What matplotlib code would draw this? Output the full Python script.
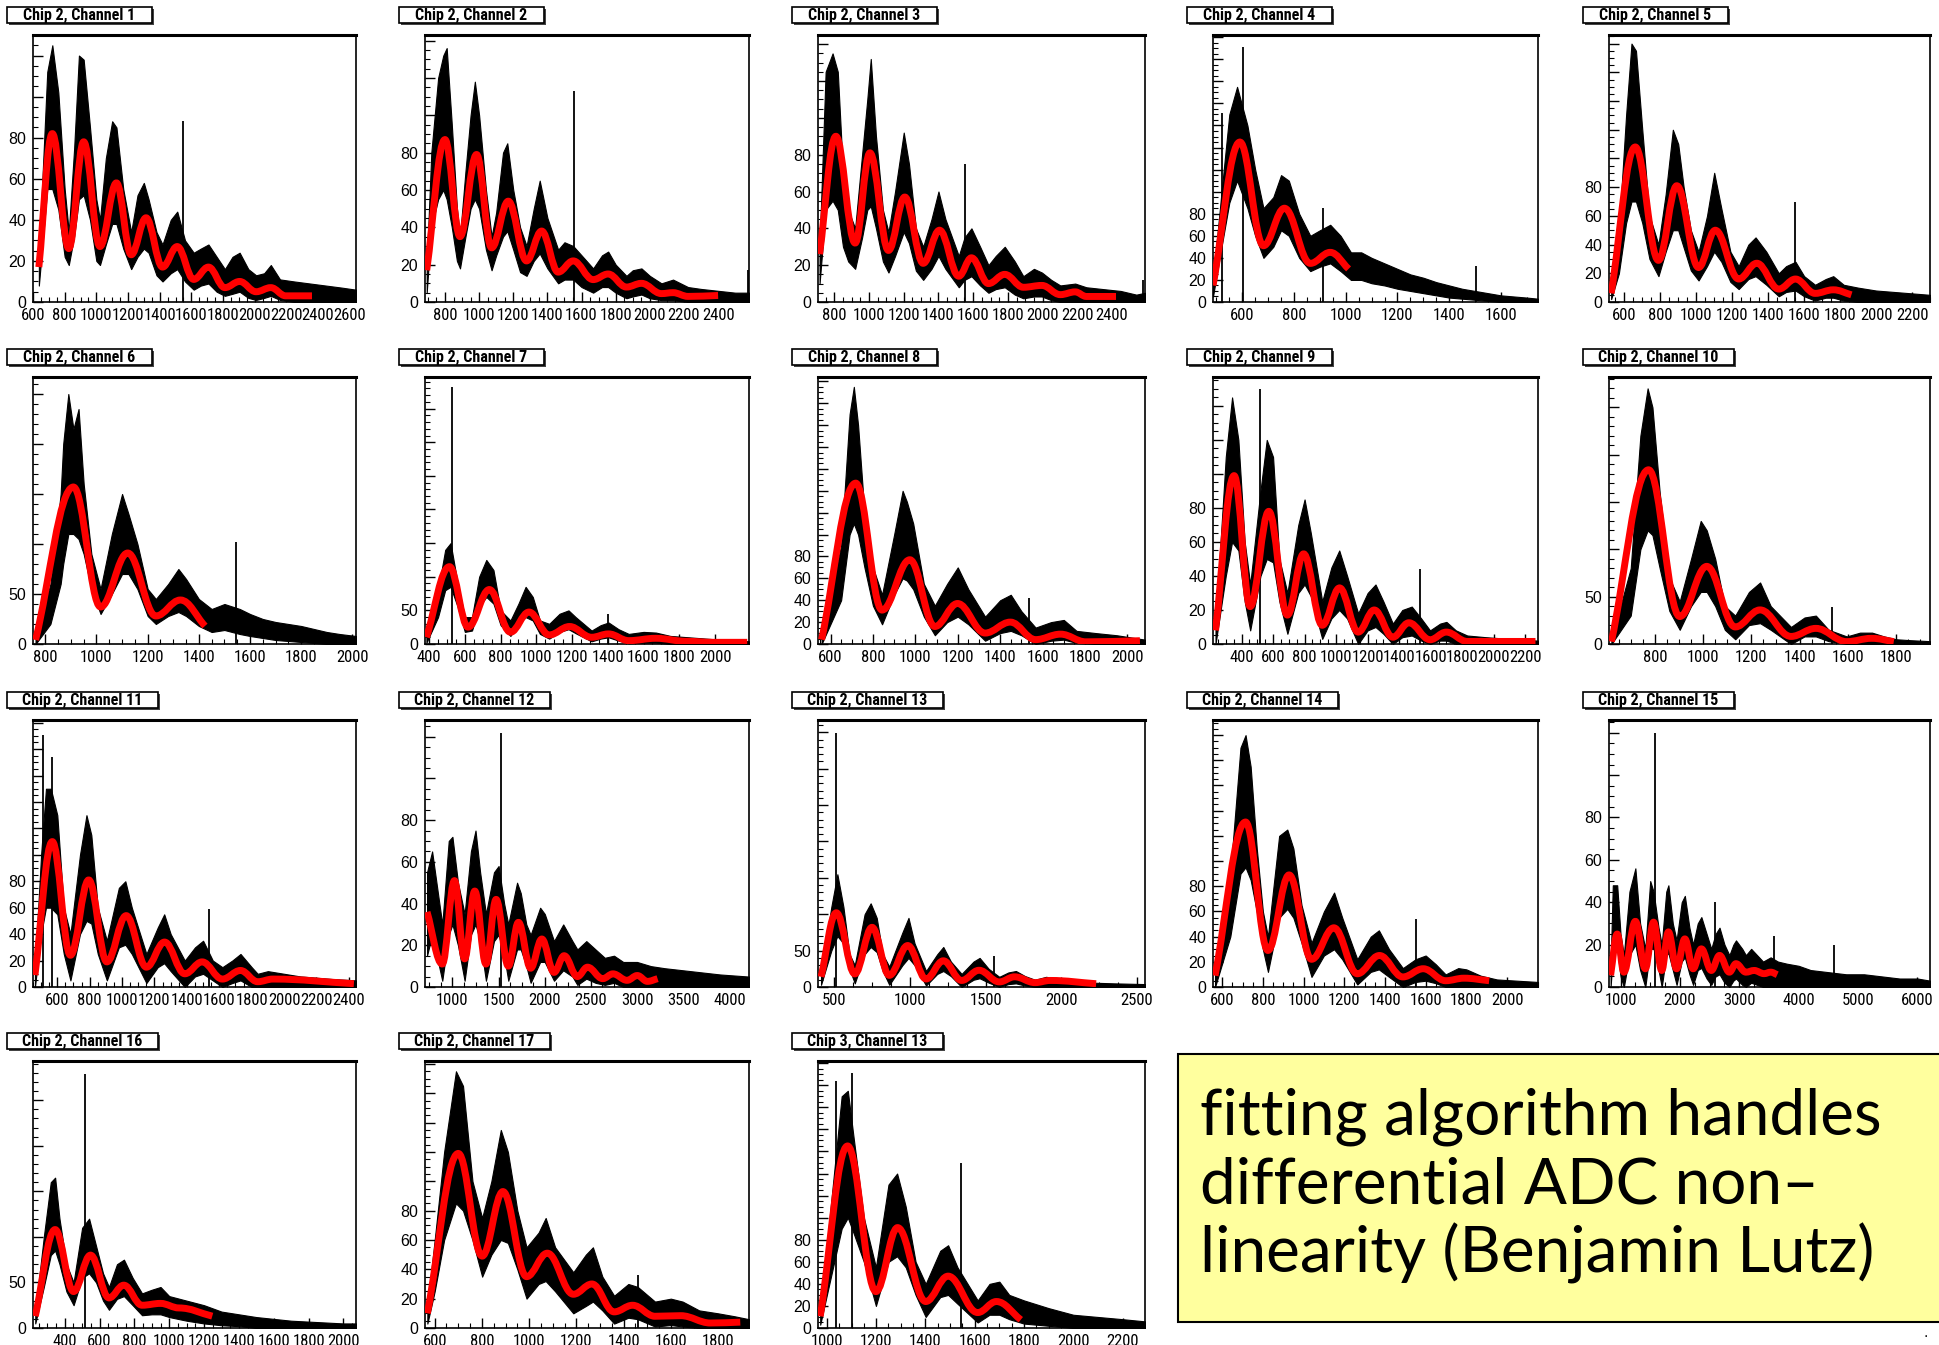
import matplotlib
matplotlib.use("Agg")
import matplotlib.pyplot as plt
from matplotlib import font_manager as fm
from matplotlib.path import Path
from matplotlib.patches import PathPatch, Rectangle
from matplotlib.ticker import MultipleLocator, AutoMinorLocator, FuncFormatter

W, H = 1939, 1345

titles = ["Chip 2, Channel 1", "Chip 2, Channel 2", "Chip 2, Channel 3",
          "Chip 2, Channel 4", "Chip 2, Channel 5", "Chip 2, Channel 6",
          "Chip 2, Channel 7", "Chip 2, Channel 8", "Chip 2, Channel 9",
          "Chip 2, Channel 10", "Chip 2, Channel 11", "Chip 2, Channel 12",
          "Chip 2, Channel 13", "Chip 2, Channel 14", "Chip 2, Channel 15",
          "Chip 2, Channel 16", "Chip 2, Channel 17", "Chip 3, Channel 13"]

# axis ranges
x_lims = [(600, 2640), (683, 2581), (706, 2590), (487, 1743), (515, 2300),
          (752, 2014), (377, 2190), (541, 2083), (219, 2281), (610, 1940),
          (450, 2444), (703, 4212), (392, 2553), (555, 2152), (806, 6211),
          (218, 2072), (559, 1931), (964, 2291)]
y_tops = [130, 143, 145, 242, 186, 267, 397, 244, 157, 282,
          202, 128, 367, 212, 126, 293, 182, 242]
x_steps = [200, 200, 200, 200, 200, 200, 200, 200, 200, 200,
           200, 500, 500, 200, 1000, 200, 200, 200]
y_steps = [20, 20, 20, 20, 20, 50, 50, 20, 20, 50,
           20, 20, 50, 20, 20, 50, 20, 20]
y_label_max = [80, 80, 80, 80, 80, 50, 50, 80, 80, 50,
               80, 80, 50, 80, 80, 50, 80, 80]

# ---- panel data: fit extrema, histogram envelope, single-bin spikes ----
p1_fx = [637, 722, 826, 920, 1023, 1127, 1220, 1314, 1418, 1511, 1615, 1708, 1812, 1905, 2009, 2102, 2196, 2362]
p1_fy = [17, 82, 26, 78, 27, 58, 23, 41, 17, 27, 11, 17, 7, 10, 5, 7, 3, 3]
p1_hx = [637, 690, 722, 760, 800, 826, 860, 890, 920, 960, 1000, 1023, 1060, 1100, 1127, 1170, 1220, 1260, 1300, 1330, 1380,
         1418, 1470, 1511, 1560, 1615, 1660, 1708, 1760, 1812, 1860, 1905, 1960, 2009, 2060, 2102, 2160, 2250, 2350, 2450, 2550, 2640]
p1_hi = [22, 112, 125, 102, 55, 34, 75, 120, 118, 85, 50, 40, 70, 88, 85, 55, 34, 52, 58, 50, 34,
         28, 40, 44, 30, 24, 26, 28, 22, 16, 22, 24, 16, 13, 14, 18, 11, 10, 9, 8, 7, 6]
p1_lo = [8, 55, 55, 45, 22, 18, 32, 50, 52, 40, 20, 18, 28, 38, 38, 26, 16, 22, 26, 24, 13,
         10, 14, 16, 10, 6, 8, 9, 5, 3, 4, 5, 2, 1, 2, 3, 1, 0, 0, 0, 0, 0]
p1_sx, p1_sy = [1550], [88]

p2_fx = [693, 800, 888, 985, 1073, 1171, 1278, 1366, 1463, 1551, 1668, 1756, 1863, 1951, 2068, 2136, 2224, 2400]
p2_fy = [17, 87, 35, 79, 29, 54, 22, 38, 16, 22, 12, 15, 8, 10, 4.5, 5, 3, 3.5]
p2_hx = [693, 720, 760, 790, 810, 840, 870, 888, 920, 950, 975, 1000, 1040, 1073, 1100, 1140, 1165, 1200, 1240, 1278, 1320,
         1355, 1400, 1463, 1500, 1551, 1600, 1668, 1720, 1756, 1800, 1863, 1900, 1951, 2000, 2068, 2136, 2224, 2300, 2400, 2500, 2581]
p2_hi = [20, 80, 120, 132, 136, 95, 50, 35, 70, 100, 118, 100, 60, 35, 48, 80, 85, 60, 40, 30, 50,
         65, 45, 28, 32, 30, 25, 18, 25, 27, 20, 14, 17, 18, 14, 10, 12, 8, 7, 6, 5, 5]
p2_lo = [5, 40, 55, 60, 55, 40, 22, 18, 35, 50, 55, 50, 28, 17, 25, 35, 38, 28, 16, 14, 22,
         26, 18, 10, 12, 12, 8, 5, 8, 8, 5, 2, 3, 4, 2, 1, 1, 0, 0, 0, 0, 0]
p2_sx, p2_sy = [1555, 2575], [113, 17]

p3_fx = [715, 809, 920, 1005, 1112, 1206, 1312, 1406, 1517, 1590, 1688, 1782, 1889, 1996, 2102, 2188, 2252, 2423]
p3_fy = [26, 90, 32, 81, 28, 57, 21, 39, 14, 24, 10, 15, 8, 9, 4, 5.5, 3, 3]
p3_hx = [715, 750, 790, 820, 850, 880, 920, 960, 990, 1010, 1040, 1080, 1112, 1150, 1200, 1230, 1270, 1312, 1360, 1400,
         1440, 1517, 1550, 1590, 1640, 1688, 1730, 1782, 1840, 1889, 1950, 1996, 2050, 2102, 2188, 2252, 2350, 2450, 2540, 2590]
p3_hi = [30, 125, 135, 125, 70, 50, 40, 80, 110, 132, 90, 50, 38, 60, 92, 75, 40, 30, 45, 60,
         45, 25, 35, 40, 30, 20, 25, 30, 22, 14, 18, 16, 12, 9, 10, 8, 7, 6, 4, 5]
p3_lo = [10, 50, 55, 50, 30, 22, 18, 35, 50, 52, 40, 22, 16, 25, 38, 32, 17, 12, 18, 25,
         18, 8, 12, 14, 9, 5, 7, 8, 4, 2, 3, 3, 1, 0, 0, 0, 0, 0, 0, 0]
p3_sx, p3_sy = [1551, 2578], [75, 12]

p4_fx = [487, 591, 682, 763, 863, 940, 1011]
p4_fy = [15, 145, 51, 85, 35, 45, 30]
p4_hx = [487, 520, 550, 580, 620, 650, 682, 720, 750, 780, 820, 863, 900, 940, 980, 1020,
         1060, 1100, 1150, 1200, 1250, 1300, 1350, 1400, 1450, 1500, 1550, 1600, 1650, 1700, 1743]
p4_hi = [20, 100, 170, 195, 160, 120, 85, 95, 115, 110, 80, 60, 65, 70, 60, 45,
         45, 40, 35, 30, 25, 22, 18, 15, 12, 10, 8, 6, 5, 4, 3]
p4_lo = [5, 50, 90, 110, 85, 60, 40, 50, 65, 60, 40, 28, 32, 35, 28, 20,
         20, 17, 15, 12, 10, 8, 6, 4, 3, 2, 1, 0, 0, 0, 0]
p4_sx, p4_sy = [520, 604, 912, 1503], [171, 231, 85, 33]

p5_fx = [527, 661, 790, 892, 1013, 1106, 1236, 1337, 1459, 1552, 1661, 1762, 1863]
p5_fy = [6, 108, 29, 81, 24, 50, 16, 27, 9, 16, 6, 8.5, 5]
p5_hx = [527, 570, 610, 640, 665, 700, 740, 790, 830, 870, 900, 930, 970, 1013, 1060, 1100, 1140, 1190,
         1236, 1290, 1330, 1390, 1459, 1500, 1552, 1600, 1661, 1720, 1762, 1820, 1900, 2000, 2100, 2200, 2300]
p5_hi = [10, 50, 130, 180, 175, 120, 60, 40, 75, 120, 110, 80, 50, 35, 60, 90, 65, 35,
         25, 40, 45, 35, 20, 25, 28, 18, 12, 16, 18, 12, 10, 8, 7, 6, 5]
p5_lo = [2, 20, 55, 70, 70, 55, 30, 18, 35, 50, 50, 38, 22, 15, 25, 35, 28, 14,
         9, 16, 18, 12, 4, 7, 8, 4, 1, 3, 3, 1, 0, 0, 0, 0, 0]
p5_sx, p5_sy = [1552], [70]

p6_fx = [762, 910, 1016, 1122, 1232, 1328, 1424]
p6_fy = [4, 157, 37, 91, 28, 44, 18]
p6_hx = [762, 820, 860, 870, 890, 910, 930, 950, 980, 1016, 1060, 1100, 1125, 1160, 1200, 1232,
         1280, 1320, 1350, 1400, 1450, 1500, 1560, 1600, 1650, 1700, 1750, 1800, 1850, 1900, 1950, 2014]
p6_hi = [8, 60, 150, 200, 250, 215, 235, 160, 90, 55, 110, 150, 130, 100, 55, 45,
         60, 75, 65, 45, 35, 40, 35, 30, 25, 22, 20, 18, 15, 12, 10, 8]
p6_lo = [0, 20, 60, 80, 110, 110, 105, 90, 55, 30, 50, 70, 70, 55, 28, 20,
         28, 32, 28, 18, 12, 14, 10, 8, 6, 4, 3, 2, 1, 0, 0, 0]
p6_sx, p6_sy = [1544], [102]

p7_fx = [385, 514, 618, 737, 855, 959, 1072, 1186, 1309, 1404, 1517, 1669, 1839, 1991, 2180]
p7_fy = [10, 115, 25, 81, 17.5, 47.5, 13.5, 26, 10, 15, 5, 8.5, 4, 2.5, 2.5]
p7_hx = [385, 450, 490, 520, 560, 600, 640, 680, 720, 760, 800, 855, 900, 940, 980, 1020, 1072,
         1130, 1180, 1220, 1309, 1360, 1404, 1460, 1517, 1600, 1669, 1750, 1850, 1950, 2050, 2150, 2190]
p7_hi = [15, 80, 140, 150, 90, 40, 40, 100, 125, 110, 50, 35, 60, 85, 70, 35, 30,
         45, 50, 40, 20, 28, 32, 22, 15, 18, 17, 12, 10, 8, 6, 5, 4]
p7_lo = [2, 40, 80, 85, 55, 18, 20, 55, 70, 60, 28, 12, 30, 40, 35, 15, 8,
         18, 22, 16, 4, 8, 10, 5, 1, 2, 2, 0, 0, 0, 0, 0, 0]
p7_sx, p7_sy = [527, 1400], [382, 45]

p8_fx = [558, 719, 843, 974, 1092, 1199, 1329, 1448, 1567, 1685, 1804, 2059]
p8_fy = [4, 147, 31, 77, 16, 37, 10, 20, 4, 9, 2, 3]
p8_hx = [558, 650, 690, 710, 730, 760, 800, 843, 900, 940, 960, 990, 1040, 1092,
         1150, 1200, 1250, 1329, 1400, 1450, 1500, 1567, 1640, 1700, 1760, 1850, 1950, 2083]
p8_hi = [8, 90, 210, 235, 200, 120, 70, 45, 100, 140, 130, 110, 55, 35,
         55, 70, 50, 25, 40, 45, 30, 15, 20, 22, 12, 10, 8, 4]
p8_lo = [0, 40, 100, 110, 100, 70, 35, 18, 45, 60, 58, 50, 25, 8,
         20, 25, 18, 3, 10, 12, 8, 0, 3, 4, 1, 0, 0, 0]
p8_sx, p8_sy = [1537], [42]

p9_fx = [235, 353, 455, 573, 691, 794, 912, 1022, 1140, 1242, 1360, 1462, 1596, 1699, 1832, 2265]
p9_fy = [8, 99, 22, 78, 17, 53, 11, 33, 7, 20, 4, 12.5, 2.5, 7, 1.5, 1.5]
p9_hx = [235, 300, 340, 380, 420, 455, 520, 560, 600, 640, 691, 760, 800, 840, 912, 970, 1020,
         1070, 1140, 1200, 1250, 1300, 1360, 1420, 1480, 1540, 1596, 1660, 1700, 1760, 1832, 1950, 2100, 2281]
p9_hi = [12, 110, 145, 120, 60, 35, 90, 120, 110, 50, 30, 70, 85, 65, 25, 45, 55,
         40, 18, 30, 35, 25, 12, 20, 22, 15, 8, 12, 13, 8, 5, 4, 3, 2]
p9_lo = [0, 40, 60, 55, 25, 8, 40, 50, 48, 25, 6, 30, 35, 28, 3, 15, 20,
         15, 0, 8, 10, 6, 0, 4, 5, 2, 0, 2, 2, 0, 0, 0, 0, 0]
p9_sx, p9_sy = [518, 1533], [150, 44]

p10_fx = [620, 774, 903, 1015, 1133, 1236, 1364, 1467, 1595, 1698, 1790]
p10_fy = [2.5, 184, 29, 82, 18, 36, 8, 16.5, 2.5, 6, 2.5]
p10_hx = [620, 700, 740, 770, 790, 820, 860, 903, 950, 990, 1015, 1050, 1090, 1133,
          1190, 1236, 1280, 1364, 1420, 1467, 1520, 1595, 1650, 1700, 1750, 1800, 1860, 1940]
p10_hi = [5, 80, 220, 270, 250, 160, 70, 45, 90, 130, 120, 90, 40, 30,
          55, 65, 40, 18, 28, 30, 15, 8, 12, 12, 8, 5, 4, 3]
p10_lo = [0, 30, 100, 120, 115, 80, 35, 15, 40, 55, 55, 40, 15, 5,
          20, 22, 15, 0, 8, 8, 3, 0, 0, 0, 0, 0, 0, 0]
p10_sx, p10_sy = [1534], [39]

p11_fx = [462, 569, 681, 794, 906, 1025, 1150, 1262, 1387, 1494, 1619, 1731, 1837, 1931, 2431]
p11_fy = [9, 110, 24, 81, 19, 54, 15, 34, 10, 19, 6, 12.5, 4, 6, 2.5]
p11_hx = [462, 500, 530, 560, 600, 640, 681, 740, 780, 810, 850, 906, 980, 1020, 1060, 1150, 1220,
          1260, 1300, 1387, 1450, 1500, 1560, 1619, 1680, 1731, 1800, 1837, 1900, 2000, 2100, 2200, 2300, 2444]
p11_hi = [15, 100, 150, 150, 130, 60, 40, 100, 130, 115, 60, 35, 75, 80, 60, 25, 45,
          55, 40, 20, 30, 35, 20, 15, 20, 25, 15, 10, 12, 10, 8, 7, 6, 5]
p11_lo = [0, 40, 60, 60, 55, 25, 5, 40, 50, 48, 25, 5, 30, 32, 25, 3, 15,
          18, 12, 0, 8, 10, 5, 0, 3, 5, 0, 0, 0, 0, 0, 0, 0, 0]
p11_sx, p11_sy = [512, 569, 1537], [191, 174, 59]

p12_fx = [725, 890, 1022, 1132, 1242, 1363, 1473, 1605, 1715, 1847, 1968, 2100, 2210, 2353, 2463,
          2628, 2738, 2892, 3002, 3112, 3222]
p12_fy = [36, 11, 51, 13.5, 46, 11, 42, 10, 31, 9, 23, 7, 15, 5, 9.5, 4, 6.3, 3.2, 5.5, 2.7, 4]
p12_hx = [725, 780, 890, 960, 1000, 1060, 1132, 1200, 1250, 1300, 1363, 1450, 1500, 1560, 1605, 1700, 1740, 1800, 1847,
          1950, 2000, 2100, 2200, 2300, 2353, 2450, 2550, 2650, 2750, 2850, 3000, 3150, 3300, 3500, 3700, 3900, 4212]
p12_hi = [55, 65, 30, 70, 72, 50, 35, 65, 75, 55, 35, 55, 58, 40, 30, 50, 45, 30, 25,
          38, 35, 22, 30, 22, 18, 22, 18, 14, 15, 12, 12, 10, 9, 8, 7, 6, 5]
p12_lo = [15, 25, 3, 25, 30, 20, 3, 25, 30, 22, 3, 22, 25, 15, 3, 18, 18, 10, 2,
          12, 12, 3, 8, 5, 1, 4, 2, 1, 2, 0, 0, 0, 0, 0, 0, 0, 0]
p12_sx, p12_sy = [1528], [122]

p13_fx = [412, 513, 635, 749, 863, 985, 1106, 1220, 1341, 1456, 1590, 1691, 1826, 1927, 2230]
p13_fy = [14, 102, 18, 82, 16, 57, 11, 36, 9, 23, 7, 14, 6, 9, 4.5]
p13_hx = [412, 480, 520, 560, 600, 635, 700, 740, 780, 820, 863, 950, 990, 1030, 1106, 1180, 1220,
          1270, 1341, 1420, 1460, 1520, 1590, 1650, 1700, 1760, 1826, 1900, 2000, 2100, 2200, 2350, 2553]
p13_hi = [20, 110, 155, 110, 45, 30, 100, 115, 95, 45, 28, 75, 95, 60, 22, 45, 55,
          35, 18, 35, 40, 25, 14, 20, 22, 15, 10, 14, 10, 8, 6, 5, 4]
p13_lo = [3, 50, 70, 60, 25, 5, 45, 55, 48, 22, 3, 30, 40, 30, 2, 18, 22,
          15, 0, 10, 12, 6, 0, 4, 5, 2, 0, 0, 0, 0, 0, 0, 0]
p13_sx, p13_sy = [513, 1557], [349, 43]

p14_fx = [565, 715, 825, 929, 1039, 1149, 1264, 1373, 1488, 1588, 1698, 1788, 1912]
p14_fy = [9, 131, 29, 89, 22, 47, 10.5, 25, 8, 14.5, 5, 7, 5]
p14_hx = [565, 640, 690, 715, 740, 770, 800, 825, 880, 920, 950, 990, 1039, 1100, 1150, 1190,
          1264, 1330, 1370, 1420, 1488, 1550, 1600, 1650, 1698, 1760, 1800, 1870, 1950, 2050, 2152]
p14_hi = [12, 90, 190, 200, 175, 110, 60, 40, 120, 125, 110, 65, 35, 60, 75, 55,
          22, 40, 45, 30, 15, 22, 25, 18, 10, 15, 14, 9, 6, 5, 4]
p14_lo = [0, 40, 90, 95, 85, 60, 30, 12, 55, 62, 55, 35, 8, 25, 30, 22,
          2, 12, 14, 8, 0, 4, 5, 3, 0, 0, 0, 0, 0, 0, 0]
p14_sx, p14_sy = [1553], [54]

p15_fx = [833, 944, 1056, 1250, 1417, 1556, 1694, 1806, 1944, 2083, 2222, 2361, 2528, 2667, 2833,
          2944, 3111, 3250, 3417, 3528, 3639]
p15_fy = [5.5, 25, 7, 31, 8.6, 30.6, 7.8, 26, 8.6, 22.7, 8.6, 18, 7.8, 14.9, 7, 11, 7, 7.8, 6.3, 7, 5.8]
p15_hx = [833, 870, 944, 1000, 1056, 1150, 1250, 1330, 1417, 1500, 1556, 1640, 1694, 1770, 1806, 1880,
          1944, 2030, 2083, 2160, 2222, 2300, 2361, 2450, 2528, 2600, 2667, 2750, 2833, 2900, 2944, 3050,
          3111, 3200, 3300, 3400, 3528, 3650, 3800, 4000, 4200, 4500, 4800, 5100, 5400, 5700, 6000, 6211]
p15_hi = [10, 48, 48, 25, 15, 45, 56, 30, 18, 50, 45, 28, 20, 45, 48, 30,
          22, 40, 43, 28, 20, 30, 33, 25, 18, 25, 28, 20, 15, 20, 22, 18,
          15, 18, 15, 12, 14, 12, 11, 10, 8, 7, 6, 6, 5, 4, 4, 3]
p15_lo = [0, 15, 18, 5, 0, 15, 20, 8, 0, 18, 18, 8, 0, 15, 16, 8,
          1, 12, 14, 6, 1, 8, 9, 4, 1, 5, 6, 2, 0, 3, 4, 1,
          0, 2, 1, 0, 0, 0, 0, 0, 0, 0, 0, 0, 0, 0, 0, 0]
p15_sx, p15_sy = [1583, 2583, 3583, 4594], [120, 40, 24, 19.6]

p16_fx = [231, 345, 451, 548, 654, 739, 844, 950, 1056, 1247]
p16_fy = [13, 108, 40, 80, 33, 47, 25, 27, 22, 13]
p16_hx = [231, 280, 320, 345, 370, 410, 451, 500, 540, 580, 620, 654, 700, 740, 790,
          844, 900, 950, 1000, 1100, 1200, 1300, 1400, 1500, 1600, 1700, 1800, 1900, 2000, 2072]
p16_hi = [18, 100, 160, 165, 120, 70, 50, 110, 120, 90, 60, 45, 70, 75, 55,
          38, 42, 45, 35, 30, 25, 18, 15, 12, 10, 8, 7, 6, 5, 5]
p16_lo = [5, 45, 80, 85, 70, 40, 25, 55, 60, 50, 30, 20, 32, 35, 25,
          14, 15, 15, 12, 8, 5, 3, 2, 0, 0, 0, 0, 0, 0, 0]
p16_sx, p16_sy = [518], [279]

p17_fx = [569, 700, 801, 889, 989, 1077, 1187, 1266, 1360, 1438, 1533, 1642, 1768, 1894]
p17_fy = [10, 119, 49, 93, 35, 51, 23, 30, 11, 15.5, 8, 8.4, 3.4, 4]
p17_hx = [569, 600, 640, 690, 720, 760, 801, 840, 880, 910, 950, 989, 1040, 1070, 1110,
          1187, 1240, 1270, 1310, 1360, 1420, 1460, 1533, 1600, 1650, 1720, 1800, 1870, 1931]
p17_hi = [15, 60, 120, 175, 165, 100, 75, 100, 135, 120, 80, 55, 65, 75, 55,
          38, 50, 55, 35, 22, 30, 28, 18, 20, 18, 12, 10, 8, 6]
p17_lo = [3, 25, 60, 85, 80, 60, 35, 50, 60, 58, 40, 20, 30, 32, 25,
          10, 15, 18, 12, 3, 7, 6, 1, 2, 1, 0, 0, 0, 0]
p17_sx, p17_sy = [1460], [36]

p18_fx = [973, 1084, 1199, 1287, 1401, 1492, 1612, 1688, 1787]
p18_fy = [10.6, 165, 33, 91, 24, 47, 14, 24, 7.5]
p18_hx = [973, 1020, 1060, 1085, 1110, 1150, 1199, 1250, 1285, 1320, 1360, 1401, 1460,
          1492, 1530, 1612, 1660, 1700, 1740, 1800, 1900, 2000, 2100, 2200, 2291]
p18_hi = [15, 120, 210, 215, 170, 100, 55, 130, 140, 110, 60, 40, 70,
          75, 55, 25, 40, 42, 30, 25, 18, 12, 10, 8, 6]
p18_lo = [3, 50, 90, 100, 85, 60, 20, 60, 65, 55, 30, 10, 28,
          30, 22, 5, 12, 12, 8, 4, 2, 0, 0, 0, 0]
p18_sx, p18_sy = [1039, 1100, 1546], [224, 231, 150]

panels = [
    (p1_fx, p1_fy, p1_hx, p1_hi, p1_lo, p1_sx, p1_sy),
    (p2_fx, p2_fy, p2_hx, p2_hi, p2_lo, p2_sx, p2_sy),
    (p3_fx, p3_fy, p3_hx, p3_hi, p3_lo, p3_sx, p3_sy),
    (p4_fx, p4_fy, p4_hx, p4_hi, p4_lo, p4_sx, p4_sy),
    (p5_fx, p5_fy, p5_hx, p5_hi, p5_lo, p5_sx, p5_sy),
    (p6_fx, p6_fy, p6_hx, p6_hi, p6_lo, p6_sx, p6_sy),
    (p7_fx, p7_fy, p7_hx, p7_hi, p7_lo, p7_sx, p7_sy),
    (p8_fx, p8_fy, p8_hx, p8_hi, p8_lo, p8_sx, p8_sy),
    (p9_fx, p9_fy, p9_hx, p9_hi, p9_lo, p9_sx, p9_sy),
    (p10_fx, p10_fy, p10_hx, p10_hi, p10_lo, p10_sx, p10_sy),
    (p11_fx, p11_fy, p11_hx, p11_hi, p11_lo, p11_sx, p11_sy),
    (p12_fx, p12_fy, p12_hx, p12_hi, p12_lo, p12_sx, p12_sy),
    (p13_fx, p13_fy, p13_hx, p13_hi, p13_lo, p13_sx, p13_sy),
    (p14_fx, p14_fy, p14_hx, p14_hi, p14_lo, p14_sx, p14_sy),
    (p15_fx, p15_fy, p15_hx, p15_hi, p15_lo, p15_sx, p15_sy),
    (p16_fx, p16_fy, p16_hx, p16_hi, p16_lo, p16_sx, p16_sy),
    (p17_fx, p17_fy, p17_hx, p17_hi, p17_lo, p17_sx, p17_sy),
    (p18_fx, p18_fy, p18_hx, p18_hi, p18_lo, p18_sx, p18_sy),
]

note_lines = ["fitting algorithm handles", "differential ADC non\u2013", "linearity (Benjamin Lutz)"]

# pixel layout of the grid
cols = [(33, 356), (425, 749), (818, 1145), (1213, 1538), (1609, 1930)]
rows = [(35, 302), (377, 644), (720, 987), (1061, 1328)]

sans = ["Liberation Sans", "DejaVu Sans"]


# look for a condensed face for the crowded x labels
def narrow_props(size, weight="normal"):
    for fam in ["Liberation Sans Narrow", "Roboto Condensed", "Open Sans Condensed"]:
        try:
            fm.findfont(fm.FontProperties(family=fam), fallback_to_default=False)
            return fm.FontProperties(family=fam, size=size, weight=weight)
        except ValueError:
            pass
    p = fm.FontProperties(family="DejaVu Sans", stretch="condensed", size=size * 0.92, weight=weight)
    if "Condensed" in fm.findfont(p):
        return p
    return fm.FontProperties(family="Liberation Sans", size=size * 0.82, weight=weight)


xlab_font = narrow_props(12)
title_font = narrow_props(11.5, "bold")


def smooth_fit(xs, ys):
    # cubic segments with flat tangents at the peaks and valleys
    verts = [(xs[0], ys[0])]
    codes = [Path.MOVETO]
    n = len(xs)
    for i in range(n - 1):
        x0, y0, x1, y1 = xs[i], ys[i], xs[i + 1], ys[i + 1]
        dx = x1 - x0
        k = 0.38
        c0 = (x0 + k * dx, y0) if i > 0 else (x0 + k * dx, y0 + k * (y1 - y0))
        c1 = (x1 - k * dx, y1) if i < n - 2 else (x1 - k * dx, y1 - k * (y1 - y0))
        verts += [c0, c1, (x1, y1)]
        codes += [Path.CURVE4] * 3
    return Path(verts, codes)


def px_rect(l, t, r, b):
    return [l / W, 1 - b / H, (r - l) / W, (b - t) / H]


fig = plt.figure(figsize=(W / 100, H / 100), dpi=100)

for i, (fx, fy, hx, hi, lo, sx, sy) in enumerate(panels):
    l, r = cols[i % 5]
    t, b = rows[i // 5]
    ax = fig.add_axes(px_rect(l, t, r, b))

    ax.fill_between(hx, lo, hi, color="black", lw=0.8, zorder=2)
    ax.vlines(sx, 0, sy, color="black", lw=1.3, zorder=2)
    ax.add_patch(PathPatch(smooth_fit(fx, fy), fill=False, edgecolor="#ff0000",
                           lw=5, joinstyle="round", capstyle="butt", zorder=3))

    ax.set_xlim(*x_lims[i])
    ax.set_ylim(0, y_tops[i])
    ax.xaxis.set_major_locator(MultipleLocator(x_steps[i]))
    ax.xaxis.set_minor_locator(AutoMinorLocator(4))
    ax.yaxis.set_major_locator(MultipleLocator(y_steps[i]))
    ax.yaxis.set_minor_locator(AutoMinorLocator(4 if y_steps[i] == 20 else 5))
    lm = y_label_max[i]
    ax.yaxis.set_major_formatter(FuncFormatter(lambda v, p, lm=lm: f"{v:g}" if v <= lm + 1e-6 else ""))
    ax.xaxis.set_major_formatter(FuncFormatter(lambda v, p: f"{v:g}"))
    ax.tick_params(direction="in", length=7, width=1, top=False, right=False)
    ax.tick_params(axis="x", pad=4)
    ax.tick_params(axis="y", pad=5)
    ax.tick_params(which="minor", direction="in", length=3.5, width=0.8, top=False, right=False)
    for lab in ax.get_xticklabels():
        lab.set_fontproperties(xlab_font)
    for lab in ax.get_yticklabels():
        lab.set_family(sans)
        lab.set_fontsize(11.5)
    for s in ax.spines.values():
        s.set_linewidth(1.2)
    ax.spines["top"].set_linewidth(2.2)

    # ROOT style title pave with shadow
    bw = 145 + 6 * (len(titles[i]) - 17)
    bl, bt = l - 26, t - 28
    fig.add_artist(Rectangle(((bl + 2) / W, 1 - (bt + 18) / H), bw / W, 16 / H,
                             transform=fig.transFigure, facecolor="#444444", edgecolor="none"))
    fig.add_artist(Rectangle((bl / W, 1 - (bt + 16) / H), bw / W, 16 / H,
                             transform=fig.transFigure, facecolor="white", edgecolor="black", lw=1.2))
    fig.text((bl + bw / 2) / W, 1 - (bt + 8.5) / H, titles[i], ha="center", va="center",
             fontproperties=title_font)

# yellow note box
fig.add_artist(Rectangle((1178 / W, 1 - 1322 / H), 800 / W, 268 / H, transform=fig.transFigure,
                         facecolor="#ffff9e", edgecolor="black", lw=1.5, zorder=5))
for k, line in enumerate(note_lines):
    fig.text(1200 / W, 1 - (1134 + 69 * k) / H, line, ha="left", va="baseline", fontsize=46,
             family=["Lato", "DejaVu Sans"], zorder=6)
fig.text(1926 / W, 1 - 1340 / H, ".", fontsize=10, ha="center", va="bottom")

fig.savefig("out.png", dpi=100)
